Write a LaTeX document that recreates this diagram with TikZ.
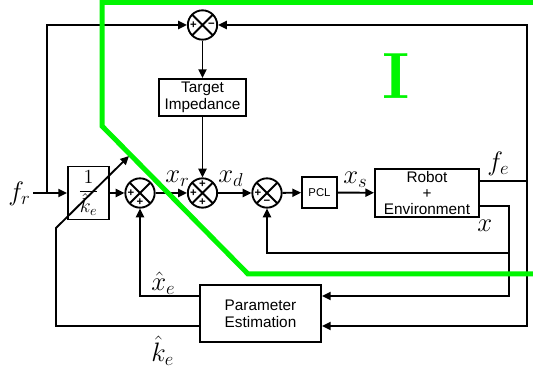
\RequirePackage{fix-cm}
\documentclass[tikz,border=0pt]{standalone}
\usepackage{fontspec}
\newfontfamily\arialf{Liberation Sans}
\usetikzlibrary{arrows.meta,calc}
\definecolor{grn}{RGB}{0,245,0}
\begin{document}
\begin{tikzpicture}[x=0.75pt,y=-0.75pt,
 ln/.style={line width=1.4pt},
 arr/.style={ln,-{Triangle[length=6.5pt,width=6pt]}},
 blk/.style={draw,ln,inner sep=0pt,align=center,font=\arialf\fontsize{11.5}{12.8}\selectfont},
 sumn/.style={circle,draw,ln,minimum size=22pt,inner sep=0pt,
   path picture={\draw[ln] (path picture bounding box.north west)--(path picture bounding box.south east)
     (path picture bounding box.north east)--(path picture bounding box.south west);}},
 sgn/.style={font=\arialf\bfseries\fontsize{8.5}{8.5}\selectfont,inner sep=0pt},
 mlab/.style={font=\fontsize{20}{24}\selectfont,inner sep=0pt,anchor=base west},
]
\useasboundingbox (0,0) rectangle (533,370);

% blocks
\node[sumn] (J0) at (202.5,25) {};
\node[blk,minimum width=65.25pt,minimum height=27.75pt] (TI) at (202.5,97.5) {Target\\Impedance};
\node[blk,minimum width=30.75pt,minimum height=39.75pt,font=\fontsize{15}{18}\selectfont] (K) at (88.5,193) {$\displaystyle\frac{1}{\hat{k}_e}$};
\node[sumn] (S1) at (140,193) {};
\node[sumn] (S2) at (202.5,193) {};
\node[sumn] (S3) at (267,193) {};
\node[blk,minimum width=26.25pt,minimum height=23.25pt,font=\arialf\fontsize{8.5}{10}\selectfont] (PCL) at (319.5,192.5) {PCL};
\node[blk,minimum width=78pt,minimum height=36pt,font=\arialf\fontsize{11.5}{12}\selectfont] (Rob) at (427,193) {Robot\\+\\Environment};
\node[blk,minimum width=90.75pt,minimum height=42.75pt] (PE) at (260.5,313.5) {Parameter\\Estimation};

% signs
\node[sgn] at ($(J0)+(-9,0)$) {+};
\node[sgn] at ($(J0)+(9,0)$) {−};
\node[sgn] at ($(S1)+(-9,0)$) {+};
\node[sgn] at ($(S1)+(0,9)$) {+};
\node[sgn] at ($(S2)+(-9,0)$) {+};
\node[sgn] at ($(S2)+(0,-9)$) {+};
\node[sgn] at ($(S2)+(0,9)$) {+};
\node[sgn] at ($(S3)+(-9,0)$) {+};
\node[sgn] at ($(S3)+(0,9)$) {−};

% coordinates
\coordinate (frs) at (33,193);
\coordinate (lt) at (47,25);
\coordinate (rtop) at (527,25);
\coordinate (rbot) at (527,326);
\coordinate (xr) at (509,296);
\coordinate (xfb) at (509,253);
\coordinate (kc) at (56,228);
\coordinate (ktip) at (129,156);
\coordinate (fe1) at ([yshift=9pt]Rob.east);
\coordinate (x1) at ([yshift=-9.75pt]Rob.east);

% connectors
\draw[arr] (frs) -- (K.west);
\draw[arr] (lt |- K) -- (lt) -- (J0);
\draw[arr] (J0) -- (TI);
\draw[arr] (TI) -- (S2);
\draw[arr] (K) -- (S1);
\draw[arr] (S1) -- (S2);
\draw[arr] (S2) -- (S3);
\draw[arr] (S3) -- (PCL);
\draw[arr] (PCL) -- (Rob);
\draw[arr] (fe1) -| (rtop) -- (J0);
\draw[arr] (rtop |- fe1) -- (rbot) -- (PE.east |- rbot);
\draw[arr] (x1) -| (xr) -- (PE.east |- xr);
\draw[arr] (xfb) -| (S3.south);
\draw[arr] (PE.west |- xr) -| (S1.south);
\draw[arr] (PE.west |- rbot) -| (kc) -- (ktip);

% labels
\node[mlab] (lfr) at (8,201) {$f_r$};
\node[mlab] (lxr) at (165,183) {$x_r$};
\node[mlab] (lxd) at (218,183) {$x_d$};
\node[mlab] (lxs) at (343,184) {$x_s$};
\node[mlab] (lfe) at (487,171) {$f_e$};
\node[mlab] (lx) at (477,232) {$x$};
\node[mlab] (lxe) at (151,291) {$\hat{x}_e$};
\node[mlab] (lke) at (151,362) {$\hat{k}_e$};

% green region
\draw[grn,line width=3.75pt] (533,2.5) -- (102,2.5) -- (102,126) -- (248,274) -- (533,274);
\node[grn,font=\bfseries\fontsize{49}{50}\selectfont,inner sep=0pt] (I) at (396,76) {I};
\end{tikzpicture}
\end{document}
